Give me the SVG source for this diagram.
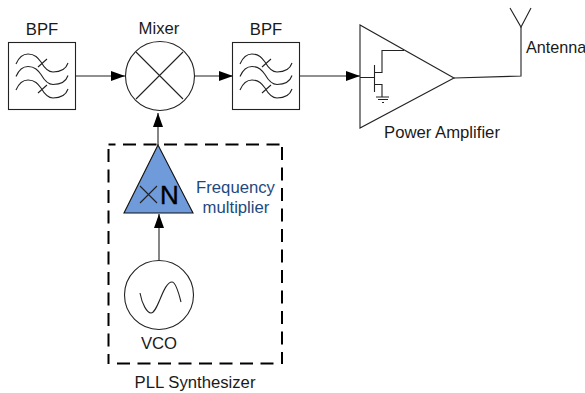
<svg xmlns="http://www.w3.org/2000/svg" width="585" height="393" viewBox="0 0 585 393">
<style>
text{font-family:"Liberation Sans",Arial,sans-serif;font-size:16.7px;fill:#1a1a1a;text-anchor:middle}
.l{fill:none;stroke:#222;stroke-width:1.1}
.w{fill:#fff;stroke:#222;stroke-width:1.1}
.d{fill:none;stroke:#000;stroke-width:2;stroke-dasharray:13 7.500}
</style>
<defs>
<marker id="a" markerUnits="userSpaceOnUse" markerWidth="14" markerHeight="10" refX="14" refY="5" orient="auto"><path d="M0 0L14 5L0 10z" fill="#000"/></marker>
<g id="f"><path class="l" d="M16 64C19 57 23 54 28 54C35 54 38 58 41 62C45 69 49 72 53 72C60 72 66 69 68 63M16 76.500C19 69.500 23 66.500 28 66.500C35 66.500 38 70.500 41 74.500C45 81.500 49 84.500 53 84.500C60 84.500 66 81.500 68 75.500M16 90C19 83 23 80 28 80C35 80 38 84 41 88C45 95 49 98 53 98C60 98 66 95 68 89M38 67L47 59M38 93L47 85"/></g>
</defs>
<g id="connectors">
<path class="l" d="M76 76H125" marker-end="url(#a)"/>
<path class="l" d="M194 76H233" marker-end="url(#a)"/>
<path class="l" d="M300 76H360" marker-end="url(#a)"/>
<path class="l" d="M158 145V113" marker-end="url(#a)"/>
<path class="l" d="M159 262V214" marker-end="url(#a)"/>
<path class="l" d="M454 78L521 76V27"/>
</g>
<g id="bpf1"><rect class="w" x="8.500" y="42.500" width="67" height="67"/><use href="#f"/><text x="42" y="35">BPF</text></g>
<g id="mixer"><circle class="w" cx="160" cy="76" r="34.500"/><path class="l" d="M136 52L183 99M183 52L136 99"/><text x="159" y="34">Mixer</text></g>
<g id="bpf2"><rect class="w" x="232.500" y="42.500" width="67" height="67"/><use href="#f" x="224"/><text x="266" y="35">BPF</text></g>
<g id="pa"><path class="w" d="M360 25V128L454 78z"/><path class="l" d="M360 77.500H374.500M374.500 65V92M374.500 72.500H382V50.500H404M374.500 84.500H382V97M376 97H389M378 99.500H388M382 102.500H384"/><text x="442" y="138">Power Amplifier</text></g>
<g id="antenna"><path class="l" d="M510 8L521 27L531 8"/><text x="526" y="53" style="text-anchor:start;font-size:16.200px">Antenna</text></g>
<g id="pll"><path class="d" d="M108.500 144.500H282" stroke-dashoffset="6"/><path class="d" d="M282 147V364"/><path class="d" d="M117 363.500H275"/><path class="d" d="M108.500 364V145" stroke-dashoffset="3"/><text x="195" y="388">PLL Synthesizer</text></g>
<g id="multiplier"><path d="M158 145L193 213H124z" fill="#6f9bdb" stroke="#111" stroke-width="1.100"/><path class="l" d="M140 186L157 203M157 186L140 203"/><text x="169.500" y="204" style="font-size:26px;fill:#000;stroke:#000;stroke-width:.4">N</text><text x="235.500" y="193" style="fill:#1f497d">Frequency</text><text x="236" y="213" style="fill:#1f497d">multiplier</text></g>
<g id="vco"><circle class="w" cx="159" cy="295" r="34.500"/><path class="l" d="M140 293C142 304 147 313 151 313C158 313 163 282 172 282C176 282 179 294 181 302"/><text x="159" y="349">VCO</text></g>
</svg>
